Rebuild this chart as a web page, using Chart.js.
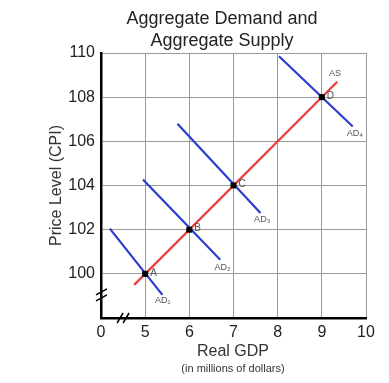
<!DOCTYPE html>
<html lang="en">
<head>
    <meta charset="UTF-8">
    <title>Aggregate Demand and Aggregate Supply</title>
    <script src="https://cdn.jsdelivr.net/npm/chart.js"></script>
    <style>
        * { margin: 0; padding: 0; }
        body { background: #fff; width: 389px; height: 383px; overflow: hidden; }
        canvas { display: block; }
    </style>
</head>
<body>
<canvas id="chart" width="389" height="383"></canvas>
<script>
// x: real GDP (millions), value 4 stands for the broken-axis "0"
const xTicks = [4, 5, 6, 7, 8, 9, 10];
const xTickLabels = ['0', '5', '6', '7', '8', '9', '10'];
const yTicks = [100, 102, 104, 106, 108, 110];

const asLine = [{x: 4.75, y: 99.5}, {x: 9.35, y: 108.7}];
const ad1 = [{x: 4.2, y: 102.05}, {x: 5.39, y: 99.05}];
const ad2 = [{x: 4.95, y: 104.27}, {x: 6.7, y: 100.64}];
const ad3 = [{x: 5.73, y: 106.8}, {x: 7.61, y: 102.76}];
const ad4 = [{x: 8.03, y: 109.85}, {x: 9.7, y: 106.67}];

const eqPoints = [{x: 5, y: 100}, {x: 6, y: 102}, {x: 7, y: 104}, {x: 9, y: 108}];
const eqNames = ['A', 'B', 'C', 'D'];

// curve labels: text, anchor point
const curveLabels = [
    {text: 'AS', x: 9.3, y: 109.05},
    {text: 'AD₁', x: 5.4, y: 98.8},
    {text: 'AD₂', x: 6.75, y: 100.3},
    {text: 'AD₃', x: 7.65, y: 102.45},
    {text: 'AD₄', x: 9.75, y: 106.35}
];

const RED = '#ee3b3b';
const BLUE = '#2b3ccf';

const lineSet = (label, data, color) => ({
    label: label,
    data: data,
    showLine: true,
    borderColor: color,
    borderWidth: 2.2,
    pointRadius: 0,
    fill: false,
    order: 1
});

const textPlugin = {
    id: 'textPlugin',
    afterDraw(chart) {
        const {ctx, scales: {x, y}} = chart;
        ctx.save();
        ctx.fillStyle = '#222';
        ctx.textAlign = 'center';
        ctx.textBaseline = 'alphabetic';
        ctx.font = '18px "Liberation Sans", Arial, sans-serif';
        ctx.fillText('Aggregate Demand and', 222, 24);
        ctx.fillText('Aggregate Supply', 222, 46);

        ctx.font = '16px "Liberation Sans", Arial, sans-serif';
        ctx.fillStyle = '#333';
        ctx.fillText('Real GDP', 233, 356);
        ctx.font = '11px "Liberation Sans", Arial, sans-serif';
        ctx.fillText('(in millions of dollars)', 233, 372);

        // point names
        ctx.fillStyle = '#555';
        ctx.font = '10px "Liberation Sans", Arial, sans-serif';
        ctx.textAlign = 'left';
        ctx.textBaseline = 'middle';
        eqPoints.forEach((p, i) => {
            ctx.fillText(eqNames[i], x.getPixelForValue(p.x) + 5, y.getPixelForValue(p.y) - 1);
        });
        ctx.font = '9px "Liberation Sans", Arial, sans-serif';
        ctx.textAlign = 'center';
        curveLabels.forEach(l => {
            ctx.fillText(l.text, x.getPixelForValue(l.x), y.getPixelForValue(l.y));
        });

        // axis break marks
        ctx.strokeStyle = '#000';
        ctx.lineWidth = 1.5;
        const bx = x.left, by = y.getPixelForValue(99.05);
        [-3, 3].forEach(d => {
            ctx.beginPath();
            ctx.moveTo(bx - 5, by + d + 3);
            ctx.lineTo(bx + 6, by + d - 3);
            ctx.stroke();
        });
        const cx = x.getPixelForValue(4.5), cy = y.bottom;
        [-3, 3].forEach(d => {
            ctx.beginPath();
            ctx.moveTo(cx + d - 3, cy + 5);
            ctx.lineTo(cx + d + 3, cy - 5);
            ctx.stroke();
        });
        ctx.restore();
    }
};

new Chart(document.getElementById('chart'), {
    type: 'scatter',
    data: {
        datasets: [
            lineSet('AS', asLine, RED),
            lineSet('AD1', ad1, BLUE),
            lineSet('AD2', ad2, BLUE),
            lineSet('AD3', ad3, BLUE),
            lineSet('AD4', ad4, BLUE),
            {
                label: 'Equilibrium',
                data: eqPoints,
                pointStyle: 'rect',
                pointRadius: 3.5,
                backgroundColor: '#000',
                borderColor: '#000',
                showLine: false,
                order: 0
            }
        ]
    },
    options: {
        responsive: false,
        animation: false,
        devicePixelRatio: 1,
        layout: { padding: { left: 0, right: 23, top: 53, bottom: 0 } },
        plugins: {
            legend: { display: false },
            tooltip: { enabled: false }
        },
        scales: {
            x: {
                type: 'linear',
                min: 4,
                max: 10,
                afterBuildTicks: (s) => { s.ticks = xTicks.map(v => ({value: v})); },
                afterFit: (s) => { s.height = 65; },
                ticks: {
                    padding: 5,
                    color: '#222',
                    font: { size: 16, family: '"Liberation Sans", Arial, sans-serif' },
                    callback: (v) => xTickLabels[xTicks.indexOf(v)],
                    maxRotation: 0
                },
                grid: {
                    drawTicks: false,
                    color: (c) => c.tick && c.tick.value === 4 ? 'rgba(0,0,0,0)' : '#999999',
                    lineWidth: 1
                },
                border: { color: '#000', width: 2.5 }
            },
            y: {
                type: 'linear',
                min: 98,
                max: 110,
                afterBuildTicks: (s) => { s.ticks = [98].concat(yTicks).map(v => ({value: v})); },
                afterFit: (s) => { s.width = 101; },
                title: {
                    display: true,
                    text: 'Price Level (CPI)',
                    color: '#333',
                    font: { size: 16, family: '"Liberation Sans", Arial, sans-serif' },
                    padding: { top: 47 }
                },
                ticks: {
                    padding: 6,
                    color: '#222',
                    font: { size: 16, family: '"Liberation Sans", Arial, sans-serif' },
                    callback: (v) => v === 98 ? '' : v
                },
                grid: {
                    drawTicks: false,
                    color: (c) => c.tick && c.tick.value === 98 ? 'rgba(0,0,0,0)' : '#999999',
                    lineWidth: 1
                },
                border: { color: '#000', width: 2.5 }
            }
        }
    },
    plugins: [textPlugin]
});
</script>
</body>
</html>
